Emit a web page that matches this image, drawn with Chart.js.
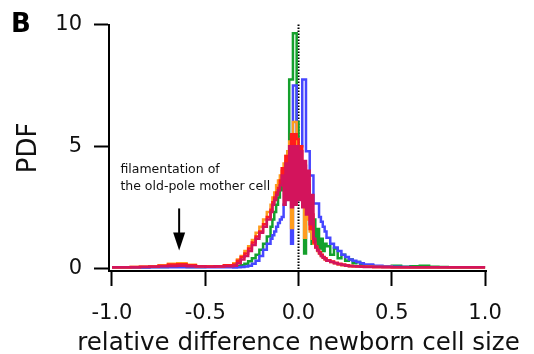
<!DOCTYPE html>
<html>
<head>
<meta charset="utf-8">
<title>relative difference newborn cell size</title>
<script src="https://cdn.jsdelivr.net/npm/chart.js@4.4.0/dist/chart.umd.min.js"></script>
<style>
    html, body { margin: 0; padding: 0; background: #fff; }
    #wrap { position: relative; width: 534px; height: 354px; }
</style>
</head>
<body>
<div id="wrap"><canvas id="hist" width="534" height="354"></canvas></div>
<script>
// bin edges (coarse in the tails, fine around 0)
var binEdges = [
    -1.00, -0.95, -0.90, -0.85, -0.80, -0.75, -0.70, -0.65, -0.60, -0.55, -0.50, -0.45, -0.40, -0.35,
    -0.33, -0.31, -0.29, -0.27, -0.25, -0.23, -0.21, -0.19, -0.17, -0.15,
    -0.14, -0.13, -0.12, -0.11, -0.10, -0.09, -0.08, -0.07, -0.06, -0.05, -0.04, -0.03, -0.02, -0.01, 0.00,
    0.01, 0.02, 0.03, 0.04, 0.05, 0.06, 0.07, 0.08, 0.09, 0.10, 0.11, 0.12, 0.13, 0.14, 0.15,
    0.17, 0.19, 0.21, 0.23, 0.25, 0.27, 0.29, 0.31, 0.33, 0.35,
    0.40, 0.45, 0.50, 0.55, 0.60, 0.65, 0.70, 0.75, 0.80, 0.85, 0.90, 0.95, 1.00
];

var pdfGreen = [
    0.03, 0.03, 0.03, 0.03, 0.04, 0.04, 0.05, 0.05, 0.04, 0.04, 0.05, 0.05, 0.06,
    0.05, 0.08, 0.12, 0.18, 0.28, 0.40, 0.55, 0.75, 1.00, 1.30,
    1.7, 2.0, 2.3, 2.6, 2.9, 3.2, 3.5, 3.9, 4.4, 4.8,
    7.75, 7.75, 9.64, 9.64, 6.0, 4.2, 3.5, 3.8, 0.6, 3.2,
    2.6, 2.2, 1.0, 2.0, 1.0, 1.6, 0.8, 1.2, 0.7, 1.0,
    0.9, 0.55, 0.8, 0.4, 0.55, 0.3, 0.35, 0.2, 0.25, 0.15,
    0.12, 0.08, 0.06, 0.10, 0.05, 0.08, 0.10, 0.05, 0.04, 0.03, 0.03, 0.03, 0.03
];

var pdfBlue = [
    0.02, 0.02, 0.02, 0.02, 0.03, 0.03, 0.03, 0.03, 0.03, 0.03, 0.03, 0.03, 0.03,
    0.02, 0.03, 0.04, 0.06, 0.10, 0.18, 0.30, 0.50, 0.75, 1.00,
    1.2, 1.35, 1.5, 1.7, 1.85, 2.0, 2.1, 2.6, 3.2, 3.4,
    3.0, 1.0, 7.5, 7.5, 4.2, 4.2, 5.0, 7.75, 7.75, 4.8,
    4.8, 3.8, 3.8, 2.65, 2.65, 2.65, 2.1, 1.9, 1.7, 1.5,
    1.25, 1.0, 0.85, 0.7, 0.55, 0.45, 0.35, 0.3, 0.25, 0.2,
    0.15, 0.10, 0.07, 0.05, 0.04, 0.03, 0.03, 0.03, 0.03, 0.03, 0.03, 0.03, 0.03
];

var pdfOrange = [
    0.03, 0.03, 0.04, 0.05, 0.06, 0.12, 0.18, 0.20, 0.14, 0.08, 0.06, 0.08, 0.12,
    0.2, 0.35, 0.5, 0.7, 0.9, 1.15, 1.45, 1.7, 2.0, 2.3,
    2.6, 2.9, 3.1, 3.4, 3.6, 3.8, 4.0, 4.3, 4.6, 4.8,
    5.2, 1.65, 6.0, 6.0, 5.0, 4.5, 4.0, 3.5, 1.25, 2.5,
    2.0, 1.5, 1.2, 1.0, 0.85, 0.7, 0.6, 0.5, 0.42, 0.35,
    0.3, 0.25, 0.2, 0.15, 0.12, 0.1, 0.08, 0.07, 0.06, 0.05,
    0.05, 0.04, 0.04, 0.03, 0.03, 0.03, 0.03, 0.03, 0.03, 0.03, 0.03, 0.03, 0.03
];

var pdfRed = [
    0.03, 0.03, 0.04, 0.05, 0.06, 0.10, 0.15, 0.16, 0.12, 0.08, 0.06, 0.08, 0.12,
    0.15, 0.3, 0.45, 0.6, 0.8, 1.05, 1.3, 1.5, 1.8, 2.1,
    2.4, 2.7, 2.9, 3.1, 3.3, 3.6, 4.1, 3.4, 4.6, 3.8,
    5.0, 5.5, 4.0, 5.5, 5.3, 4.6, 5.0, 3.8, 4.2, 3.0,
    3.4, 1.6, 2.2, 1.05, 0.9, 0.75, 0.65, 0.55, 0.45, 0.4,
    0.32, 0.27, 0.22, 0.18, 0.15, 0.12, 0.1, 0.08, 0.07, 0.06,
    0.05, 0.04, 0.04, 0.03, 0.03, 0.03, 0.03, 0.03, 0.03, 0.03, 0.03, 0.03, 0.03
];

var pdfCrimson = [
    0.03, 0.03, 0.03, 0.04, 0.05, 0.07, 0.09, 0.10, 0.08, 0.06, 0.05, 0.06, 0.08,
    0.1, 0.2, 0.35, 0.5, 0.7, 0.95, 1.2, 1.45, 1.7, 2.0,
    2.3, 2.6, 2.8, 3.0, 3.2, 3.4, 3.8, 2.6, 4.3, 2.8,
    5.0, 2.5, 5.0, 2.6, 5.0, 2.8, 4.8, 2.5, 4.4, 2.2,
    4.0, 1.8, 3.0, 1.2, 0.85, 0.72, 0.6, 0.5, 0.42, 0.36,
    0.3, 0.25, 0.2, 0.16, 0.13, 0.1, 0.08, 0.07, 0.06, 0.05,
    0.04, 0.04, 0.03, 0.03, 0.03, 0.03, 0.03, 0.03, 0.03, 0.03, 0.03, 0.03, 0.03
];

var xTicks = [-1.0, -0.5, 0.0, 0.5, 1.0];
var yTicks = [0, 5, 10];
var xTitle = 'relative difference newborn cell size';
var arrowX = -0.64;

var FONT = 'DejaVu Sans';

// histogram -> step points at the bin edges
function steps(vals) {
    var pts = [];
    for (var i = 0; i < vals.length; i++) {
        pts.push({x: binEdges[i], y: vals[i]});
    }
    pts.push({x: binEdges[vals.length], y: vals[vals.length - 1]});
    return pts;
}

function histSet(vals, color) {
    return {
        data: steps(vals),
        borderColor: color,
        borderWidth: 2.5,
        stepped: true,
        fill: false,
        pointRadius: 0
    };
}

var notes = {
    id: 'notes',
    beforeDatasetsDraw: function (chart) {
        var ctx = chart.ctx;
        var x = chart.scales.x.getPixelForValue(0);
        ctx.save();
        ctx.strokeStyle = '#000';
        ctx.lineWidth = 2;
        ctx.setLineDash([1.5, 1.5]);
        ctx.beginPath();
        ctx.moveTo(x, chart.scales.y.getPixelForValue(10));
        ctx.lineTo(x, chart.chartArea.bottom);
        ctx.stroke();
        ctx.restore();
    },
    afterDraw: function (chart) {
        var ctx = chart.ctx;
        var xs = chart.scales.x, ys = chart.scales.y;
        var area = chart.chartArea;
        ctx.save();

        // panel letter
        ctx.fillStyle = '#000';
        ctx.font = 'bold 26px ' + FONT;
        ctx.textBaseline = 'alphabetic';
        ctx.fillText('B', 11, 32);

        // x title (wider than the plot, so drawn here and not squeezed)
        ctx.font = '24.5px ' + FONT;
        ctx.fillStyle = '#111';
        ctx.textAlign = 'center';
        ctx.fillText(xTitle, (area.left + area.right) / 2 + 1, 350);
        ctx.textAlign = 'left';

        // note text
        ctx.font = '12.5px ' + FONT;
        var tx = xs.getPixelForValue(-0.955);
        ctx.fillText('filamentation of', tx, ys.getPixelForValue(3.92));
        ctx.fillText('the old-pole mother cell', tx, ys.getPixelForValue(3.2));

        // arrow
        var ax = xs.getPixelForValue(arrowX);
        var top = ys.getPixelForValue(2.45);
        var tip = ys.getPixelForValue(0.72);
        ctx.strokeStyle = '#000';
        ctx.lineWidth = 2;
        ctx.beginPath();
        ctx.moveTo(ax, top);
        ctx.lineTo(ax, tip - 16);
        ctx.stroke();
        ctx.fillStyle = '#000';
        ctx.beginPath();
        ctx.moveTo(ax - 6, tip - 18);
        ctx.lineTo(ax + 6, tip - 18);
        ctx.lineTo(ax, tip);
        ctx.closePath();
        ctx.fill();
        ctx.restore();
    }
};

var ctx = document.getElementById('hist');

var histChart = new Chart(ctx, {
    type: 'line',
    data: {
        datasets: [
            histSet(pdfCrimson, '#d3145c'),
            histSet(pdfRed, '#ff1c1c'),
            histSet(pdfOrange, '#ff9c1e'),
            histSet(pdfBlue, '#4646ff'),
            histSet(pdfGreen, '#14a02c')
        ]
    },
    options: {
        responsive: false,
        animation: false,
        devicePixelRatio: 1,
        layout: {padding: {top: 19, right: 48, bottom: 0, left: 0}},
        plugins: {
            legend: {display: false},
            tooltip: {enabled: false}
        },
        elements: {line: {tension: 0}},
        scales: {
            x: {
                type: 'linear',
                min: -1.016,
                max: 1.005,
                afterBuildTicks: function (scale) {
                    scale.ticks = xTicks.map(function (v) { return {value: v}; });
                },
                afterFit: function (scale) { scale.height = 83; },
                ticks: {
                    autoSkip: false,
                    maxRotation: 0,
                    padding: 15,
                    color: '#111',
                    font: {family: FONT, size: 21},
                    callback: function (v) { return Number(v).toFixed(1); }
                },
                grid: {drawOnChartArea: false, drawTicks: true, tickLength: 15, tickWidth: 2, tickColor: '#000'},
                border: {display: true, color: '#000', width: 2},
                title: {display: false}
            },
            y: {
                type: 'linear',
                min: -0.12,
                max: 10,
                afterBuildTicks: function (scale) {
                    scale.ticks = yTicks.map(function (v) { return {value: v}; });
                },
                afterFit: function (scale) { scale.width = 109; },
                ticks: {
                    padding: 12,
                    color: '#111',
                    font: {family: FONT, size: 21},
                    callback: function (v) { return String(v); }
                },
                grid: {drawOnChartArea: false, drawTicks: true, tickLength: 15, tickWidth: 2, tickColor: '#000'},
                border: {display: true, color: '#000', width: 2},
                title: {
                    display: true,
                    text: 'PDF',
                    color: '#111',
                    font: {family: FONT, size: 26},
                    padding: {top: 14, bottom: 0}
                }
            }
        }
    },
    plugins: [notes]
});
</script>
</body>
</html>
